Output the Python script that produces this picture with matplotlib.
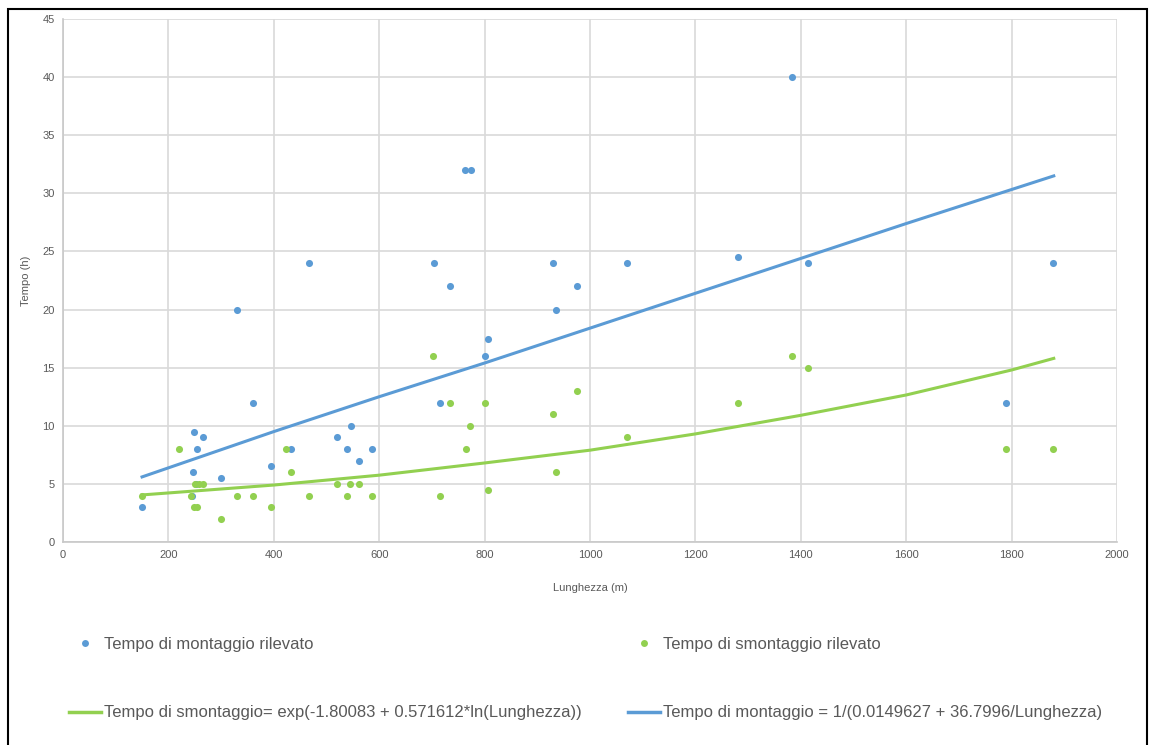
import numpy as np
import matplotlib.pyplot as plt
from matplotlib.lines import Line2D
from matplotlib.patches import Rectangle

plt.rcParams['font.family'] = ['Liberation Sans', 'DejaVu Sans']

# Observed points: length (m) vs time (h)
mont_x = [150, 248, 265, 255, 246, 252, 245, 300, 330, 360, 395, 432, 466, 520,
          546, 538, 561, 586, 716, 704, 735, 762, 774, 801, 807, 929, 935, 976,
          1071, 1281, 1413, 1384, 1789, 1879]
mont_y = [3, 9.5, 9, 8, 6, 5, 4, 5.5, 20, 12, 6.5, 8, 24, 9,
          10, 8, 7, 8, 12, 24, 22, 32, 32, 16, 17.5, 24, 20, 22,
          24, 24.5, 24, 40, 12, 24]

smont_x = [150, 220, 242, 248, 255, 250, 258, 265, 300, 330, 360, 395, 423, 432,
           466, 520, 538, 545, 561, 586, 703, 716, 735, 764, 773, 801, 807, 929,
           935, 976, 1071, 1281, 1384, 1413, 1789, 1879]
smont_y = [4, 8, 4, 3, 3, 5, 5, 5, 2, 4, 4, 3, 8, 6,
           4, 5, 4, 5, 5, 4, 16, 4, 12, 8, 10, 12, 4.5, 11,
           6, 13, 9, 12, 16, 15, 8, 8]

# Trend lines
fit_mont_x = [150, 400, 600, 800, 1000, 1200, 1400, 1600, 1880]
fit_mont_y = [5.6, 9.5, 12.5, 15.4, 18.4, 21.4, 24.4, 27.4, 31.5]
fit_smont_x = [150, 400, 600, 800, 1000, 1200, 1400, 1600, 1800, 1880]
fit_smont_y = [4.05, 4.9, 5.75, 6.8, 7.9, 9.3, 10.9, 12.65, 14.8, 15.8]

BLUE = '#5B9BD5'
GREEN = '#92D050'
GRAY = '#595959'


def main():
    fig = plt.figure(figsize=(11.52, 7.45), dpi=100)
    ax = fig.add_axes([63 / 1152, 1 - 542 / 745, (1117 - 63) / 1152, (542 - 19) / 745])

    ax.scatter(mont_x, mont_y, s=26, color=BLUE, zorder=3, linewidths=0)
    ax.scatter(smont_x, smont_y, s=26, color=GREEN, zorder=3, linewidths=0)
    ax.plot(fit_mont_x, fit_mont_y, color=BLUE, lw=2.2, zorder=4)
    ax.plot(fit_smont_x, fit_smont_y, color=GREEN, lw=2.2, zorder=4)

    ax.set_xlim(0, 2000)
    ax.set_ylim(0, 45)
    ax.set_xticks(range(0, 2001, 200))
    ax.set_yticks(range(0, 46, 5))
    ax.grid(True, color='#d9d9d9', lw=1.2)
    ax.set_axisbelow(True)
    for side in ['top', 'right']:
        ax.spines[side].set_visible(False)
    for side in ['left', 'bottom']:
        ax.spines[side].set_color('#c8c8c8')
        ax.spines[side].set_linewidth(1.2)
    ax.tick_params(length=0, labelsize=8, labelcolor=GRAY, pad=6)
    ax.set_xlabel('Lunghezza (m)', fontsize=8, color=GRAY, labelpad=16)
    ax.set_ylabel('Tempo (h)', fontsize=8, color=GRAY, labelpad=8)

    handles = [
        Line2D([], [], ls='none', marker='o', ms=5, color=BLUE, mec='none'),
        Line2D([], [], color=GREEN, lw=2.5),
        Line2D([], [], ls='none', marker='o', ms=5, color=GREEN, mec='none'),
        Line2D([], [], color=BLUE, lw=2.5),
    ]
    labels = [
        'Tempo di montaggio rilevato',
        'Tempo di smontaggio= exp(-1.80083 + 0.571612*ln(Lunghezza))',
        'Tempo di smontaggio rilevato',
        'Tempo di montaggio = 1/(0.0149627 + 36.7996/Lunghezza)',
    ]
    fig.legend(handles, labels, ncol=2, loc='upper left',
               bbox_to_anchor=(54 / 1152, 1 - 622 / 745), frameon=False,
               fontsize=12, handlelength=1.9, handletextpad=0.2,
               columnspacing=2.8, labelspacing=3.2, labelcolor=GRAY)

    fig.patches.append(Rectangle((8 / 1152, -0.02), 1139 / 1152, 1.02 - 9 / 745,
                                 transform=fig.transFigure, fill=False,
                                 edgecolor='black', lw=1.5))

    fig.savefig('out.png', dpi=100)


if __name__ == "__main__":
    main()
